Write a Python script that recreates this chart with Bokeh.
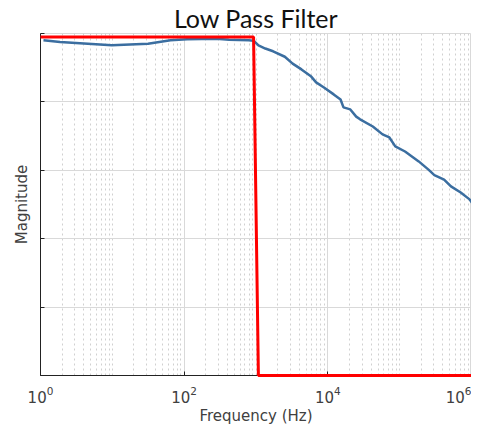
from bokeh.plotting import figure
from bokeh.models import Range1d, CustomJSTickFormatter, Title, FixedTicker
from bokeh.embed import file_html
from bokeh.resources import INLINE

# Measured response (blue)
freq = [1.1, 1.87, 9.85, 31.4, 64.5, 110, 281, 423, 791, 925, 1082, 1347, 1730,
        2520, 3236, 4295, 5872, 6870, 8830, 12070, 15030, 16520, 20560, 24830,
        28120, 42280, 57790, 71940, 86860, 118800, 184200, 251800, 304000,
        415500, 517600, 707900, 939000, 1100000]
mag = [0.980, 0.975, 0.966, 0.970, 0.980, 0.983, 0.985, 0.982, 0.980, 0.979,
       0.965, 0.956, 0.948, 0.932, 0.912, 0.895, 0.874, 0.857, 0.842, 0.822,
       0.807, 0.784, 0.778, 0.757, 0.749, 0.728, 0.705, 0.696, 0.670, 0.655,
       0.626, 0.602, 0.586, 0.573, 0.553, 0.535, 0.515, 0.495]

# Ideal low pass (red)
ideal_freq = [1, 925, 1080, 1000000]
ideal_mag = [0.99, 0.99, 0.0, 0.0]

y_ticks = [0, 0.2, 0.4, 0.6, 0.8, 1.0]
x_major = [1, 100, 10000, 1000000]
x_minor = [m * 10 ** k for k in range(0, 7) for m in range(1, 10)
           if m * 10 ** k not in x_major and m * 10 ** k <= 1e7]

p = figure(width=471, height=427, x_axis_type="log",
           x_range=Range1d(1, 1e6), y_range=Range1d(0, 1),
           output_backend="svg", toolbar_location=None,
           min_border_left=40, min_border_right=0, min_border_top=7,
           min_border_bottom=40)

p.title = None
p.add_layout(Title(text="Low Pass Filter", align="center",
                   text_font="Lato", text_font_size="25px",
                   text_font_style="normal", text_color="#111111",
                   standoff=1), "above")

red = p.line(ideal_freq, ideal_mag, line_color="#ff0000", line_width=3)
red.level = "overlay"
p.line(freq, mag, line_color="#3b6ea0", line_width=2.5)

# axes
p.xaxis.axis_label = "Frequency (Hz)"
p.yaxis.axis_label = "Magnitude"
for ax in (p.xaxis[0], p.yaxis[0]):
    ax.axis_label_text_font = "DejaVu Sans"
    ax.axis_label_text_font_size = "15px"
    ax.axis_label_text_font_style = "normal"
    ax.axis_label_text_color = "#404040"
    ax.major_label_text_font = "DejaVu Sans"
    ax.major_label_text_font_size = "15px"
    ax.major_label_text_color = "#404040"
    ax.axis_line_color = "#222222"
    ax.major_tick_line_color = "#222222"
    ax.major_tick_in = 4
    ax.major_tick_out = 0
    ax.minor_tick_line_color = None

p.xaxis.ticker = FixedTicker(ticks=x_major, minor_ticks=x_minor)
p.yaxis.ticker = FixedTicker(ticks=y_ticks)
p.yaxis.formatter = CustomJSTickFormatter(code="return ''")
p.yaxis.axis_label_standoff = 10
p.xaxis.major_label_standoff = 6
p.xaxis.axis_label_standoff = 1

# grids
p.xgrid.grid_line_color = "#d9d9d9"
p.xgrid.minor_grid_line_color = "#d0d0d0"
p.xgrid.minor_grid_line_dash = "2 3"
p.ygrid.grid_line_color = "#d9d9d9"
p.ygrid.ticker = FixedTicker(ticks=y_ticks)

p.outline_line_color = "#d9d9d9"
p.background_fill_color = "white"
p.border_fill_color = "white"

open("out.html", "w").write(file_html(p, INLINE))
